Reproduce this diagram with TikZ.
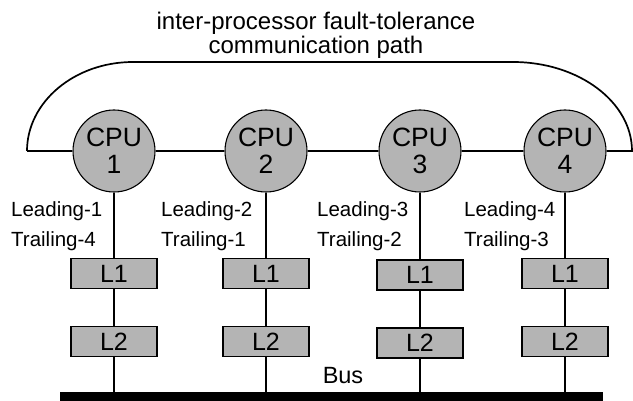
\documentclass[tikz,border=0pt]{standalone}
\usepackage{fontspec}
\setmainfont{Liberation Sans}
\definecolor{boxgray}{RGB}{180,180,180}
\begin{document}
\begin{tikzpicture}[x=1pt,y=-1pt,
  cpu/.style={circle, draw, line width=1.1pt, fill=boxgray, minimum size=82pt, inner sep=0pt, align=center, font=\fontsize{26.5}{27}\selectfont},
  cache/.style={rectangle, draw, line width=1.7pt, fill=boxgray, minimum width=86pt, minimum height=30pt, inner sep=0pt, font=\fontsize{25}{25}\selectfont},
  lbl/.style={anchor=base west, inner sep=0pt, font=\fontsize{20.5}{20.5}\selectfont},
  title/.style={align=center, inner sep=0pt, font=\fontsize{24}{24}\selectfont},
  wire/.style={line width=1.3pt},
  ring/.style={line width=2.1pt},
  arcline/.style={line width=1.7pt},
  busbar/.style={rectangle, fill=black, draw=none, inner sep=0pt, minimum width=543pt, minimum height=10pt}]
\useasboundingbox (0,0) rectangle (633,401);
\node[title] (title) at (316,35) {inter-processor fault-tolerance\\communication path};
% ring path
\coordinate (le) at (27,151);
\coordinate (re) at (632,151);
\coordinate (ta) at (133,62);
\coordinate (tb) at (513,62);
\draw[arcline] (le) .. controls (27,102) and (74.5,62) .. (ta) -- (tb) .. controls (578.7,62) and (632,102) .. (re);
% CPUs
\node[cpu] (c1) at (114,151) {CPU\\1};
\node[cpu] (c2) at (266,151) {CPU\\2};
\node[cpu] (c3) at (420,151) {CPU\\3};
\node[cpu] (c4) at (565,151) {CPU\\4};
\draw[ring] (le) -- (c1);
\draw[ring] (c1) -- (c2);
\draw[ring] (c2) -- (c3);
\draw[ring] (c3) -- (c4);
\draw[ring] (c4) -- (633,151);
% caches
\node[cache] (l1a) at (114,273.5) {L1};
\node[cache] (l1b) at (266,273.5) {L1};
\node[cache] (l1c) at (420,275) {L1};
\node[cache] (l1d) at (565,273.5) {L1};
\node[cache] (l2a) at (114,341.5) {L2};
\node[cache] (l2b) at (266,341.5) {L2};
\node[cache] (l2c) at (420,343) {L2};
\node[cache] (l2d) at (565,341.5) {L2};
% bus
\node[busbar] (bus) at (331.5,397) {};
\node[inner sep=0pt, font=\fontsize{23.5}{23.5}\selectfont] (buslbl) at (343,376) {Bus};
% vertical wires
\foreach \c/\a/\b in {c1/l1a/l2a, c2/l1b/l2b, c3/l1c/l2c, c4/l1d/l2d}{
  \draw[wire] (\c) -- (\a);
  \draw[wire] (\a) -- (\b);
  \draw[wire] (\b) -- (\b |- bus.north);
}
% labels
\node[lbl] (ld1) at (11,217) {Leading-1};
\node[lbl] (tr1) at (11,247) {Trailing-4};
\node[lbl] (ld2) at (161,217) {Leading-2};
\node[lbl] (tr2) at (161,247) {Trailing-1};
\node[lbl] (ld3) at (317,217) {Leading-3};
\node[lbl] (tr3) at (317,247) {Trailing-2};
\node[lbl] (ld4) at (464,217) {Leading-4};
\node[lbl] (tr4) at (464,247) {Trailing-3};
\end{tikzpicture}
\end{document}
